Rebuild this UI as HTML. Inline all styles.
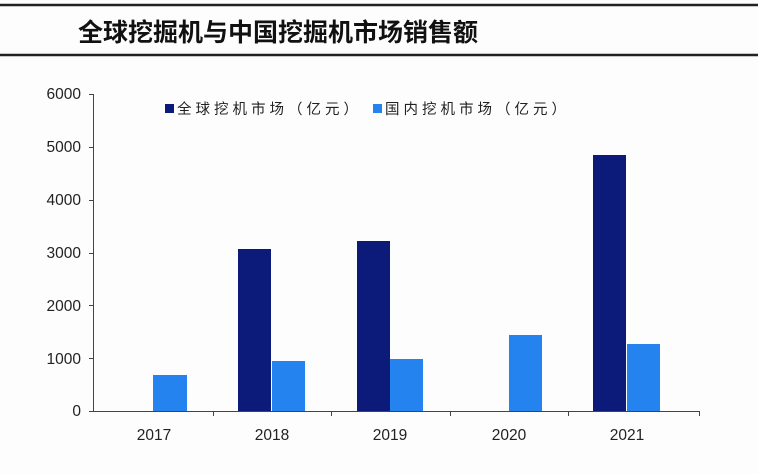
<!DOCTYPE html>
<html><head><meta charset="utf-8"><style>
body{margin:0;background:#fdfdfe;}
svg{display:block;font-family:"Liberation Sans","Noto Sans CJK SC",sans-serif;}
</style></head><body>
<svg width="758" height="474" viewBox="0 0 758 474">
<rect width="758" height="474" fill="#fdfdfe"/>
<line x1="0" y1="5" x2="758" y2="5" stroke="#222" stroke-width="2.5"/>
<line x1="0" y1="55" x2="758" y2="55" stroke="#222" stroke-width="2.5"/>
<text x="78" y="41" font-size="25" font-weight="bold" fill="#111" font-family="'Noto Sans CJK SC',sans-serif">全球挖掘机与中国挖掘机市场销售额</text>
<g font-size="15.5" fill="#222" text-anchor="end">
<text x="81" y="99">6000</text><text x="81" y="152">5000</text><text x="81" y="205">4000</text>
<text x="81" y="258">3000</text><text x="81" y="311">2000</text><text x="81" y="364">1000</text><text x="81" y="416">0</text>
</g>
<g stroke="#444" stroke-width="1">
<line x1="93.5" y1="94" x2="93.5" y2="411"/>
<line x1="89" y1="94.5" x2="93" y2="94.5"/><line x1="89" y1="147.5" x2="93" y2="147.5"/>
<line x1="89" y1="200.5" x2="93" y2="200.5"/><line x1="89" y1="253.5" x2="93" y2="253.5"/>
<line x1="89" y1="305.5" x2="93" y2="305.5"/><line x1="89" y1="358.5" x2="93" y2="358.5"/>
<line x1="89" y1="411.5" x2="700" y2="411.5"/>
<line x1="213.5" y1="411" x2="213.5" y2="416"/><line x1="331.5" y1="411" x2="331.5" y2="416"/>
<line x1="450.5" y1="411" x2="450.5" y2="416"/><line x1="568.5" y1="411" x2="568.5" y2="416"/>
<line x1="699.5" y1="411" x2="699.5" y2="416"/>
</g>
<g fill="#0c1a7a">
<rect x="238" y="249" width="33" height="162"/>
<rect x="357" y="241" width="33" height="170"/>
<rect x="593" y="155" width="33" height="256"/>
</g>
<g fill="#2583f0">
<rect x="153" y="375" width="34" height="36"/>
<rect x="272" y="361" width="33" height="50"/>
<rect x="390" y="359" width="33" height="52"/>
<rect x="509" y="335" width="33" height="76"/>
<rect x="627" y="344" width="33" height="67"/>
</g>
<g font-size="15.5" fill="#222" text-anchor="middle">
<text x="154" y="440">2017</text><text x="272" y="440">2018</text><text x="390" y="440">2019</text>
<text x="509" y="440">2020</text><text x="627" y="440">2021</text>
</g>
<rect x="165" y="104" width="9" height="9" fill="#0c1a7a"/>
<text x="177" y="114" font-size="14.5" fill="#222" font-family="'Noto Sans CJK SC',sans-serif" letter-spacing="4">全球挖机市场（亿元）</text>
<rect x="373" y="104" width="9" height="9" fill="#2583f0"/>
<text x="385" y="114" font-size="14.5" fill="#222" font-family="'Noto Sans CJK SC',sans-serif" letter-spacing="4">国内挖机市场（亿元）</text>
</svg>
</body></html>
